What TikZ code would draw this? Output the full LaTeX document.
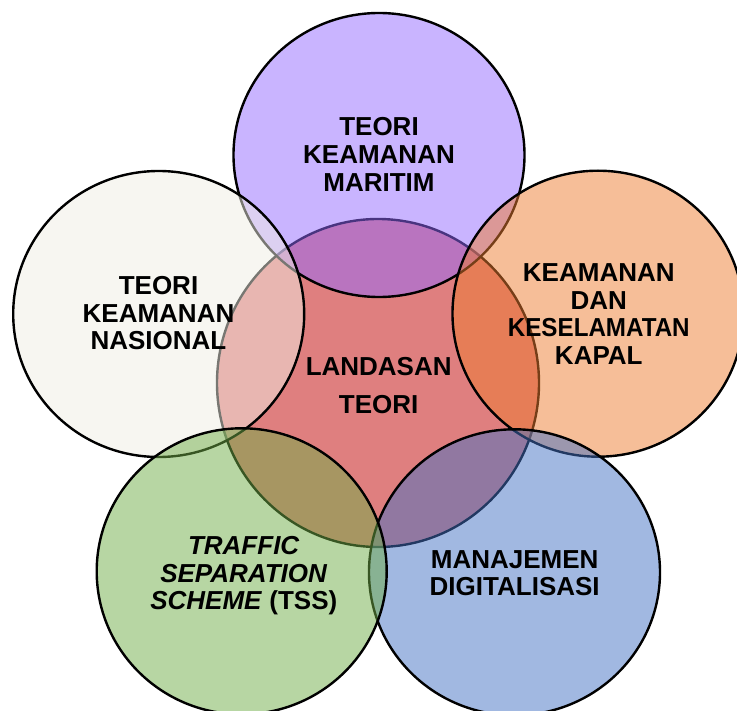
\documentclass[tikz,border=0pt]{standalone}
\usepackage{graphicx}
\usepackage{fontspec}
\setmainfont{Liberation Sans}
\definecolor{cCenter}{RGB}{192,0,0}
\definecolor{cTop}{RGB}{147,105,255}
\definecolor{cLeft}{RGB}{240,238,228}
\definecolor{cRight}{RGB}{237,125,49}
\definecolor{cGreen}{RGB}{112,173,71}
\definecolor{cBlue}{RGB}{68,114,196}
\tikzset{
  venn/.style={draw=black, line width=2.4pt, fill opacity=0.5},
  lbl/.style={anchor=north, inner sep=0pt, align=center, text=black,
    font=\bfseries\fontsize{26}{27.7}\selectfont},
}
\begin{document}
\begin{tikzpicture}[x=1pt,y=-1pt]
\useasboundingbox (0,0) rectangle (737,711);
\clip (0,0) rectangle (737,711);
% circles (bottom to top)
\path[venn, fill=cCenter] (378,383) ellipse [x radius=161pt, y radius=164pt];
\path[venn, fill=cTop]    (379,155) ellipse [x radius=145.5pt, y radius=142pt];
\path[venn, fill=cLeft]   (158.7,314) ellipse [x radius=145.5pt, y radius=143pt];
\path[venn, fill=cRight]  (598,313.7) ellipse [x radius=145.5pt, y radius=143pt];
\path[venn, fill=cBlue]   (514.5,572.3) ellipse [x radius=145.5pt, y radius=143pt];
\path[venn, fill=cGreen]  (241.7,571.3) ellipse [x radius=145pt, y radius=143pt];
% labels
\node[lbl] (tTop) at (379,117.3) {TEORI\\KEAMANAN\\MARITIM};
\node[lbl] (tLeft) at (158.5,276) {TEORI\\KEAMANAN\\NASIONAL};
\node[lbl] (tRight) at (598.8,263.3) {KEAMANAN\\DAN\\\scalebox{0.93}[1]{KESELAMATAN}\\KAPAL};
\node[lbl, font=\bfseries\fontsize{26}{38.3}\selectfont] (tCenter) at (378.7,356.7) {LANDASAN\\TEORI};
\node[lbl] (tGreen) at (243.8,536) {\textit{TRAFFIC}\\\textit{SEPARATION}\\\textit{SCHEME} (TSS)};
\node[lbl] (tBlue) at (514.7,550) {MANAJEMEN\\DIGITALISASI};
\end{tikzpicture}
\end{document}
